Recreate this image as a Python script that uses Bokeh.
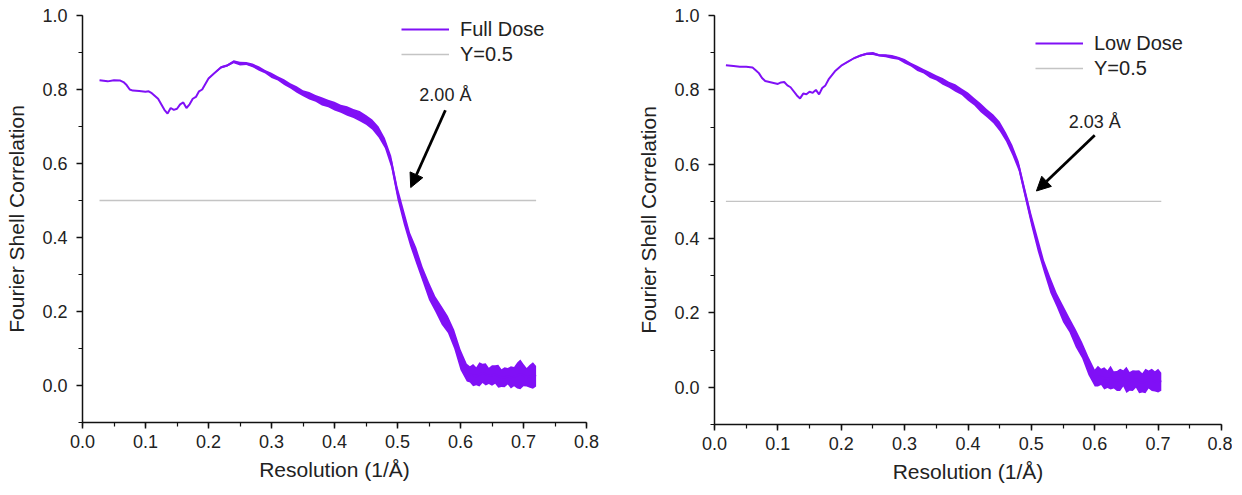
from bokeh.plotting import figure
from bokeh.layouts import row
from bokeh.models import (Range1d, SingleIntervalTicker, NumeralTickFormatter, Legend, LegendItem,
                          Arrow, NormalHead, Label, ColumnDataSource)
from bokeh.embed import file_html
from bokeh.resources import INLINE

# ---------------- data ----------------
# Panel a: Full Dose
res_a = [0.027, 0.04, 0.05, 0.06, 0.065, 0.07, 0.075, 0.08, 0.09, 0.10, 0.105, 0.11, 0.12, 0.13,
         0.135, 0.14, 0.145, 0.15, 0.155, 0.16, 0.165, 0.17, 0.175, 0.18, 0.185, 0.19, 0.20, 0.21,
         0.22, 0.23, 0.24, 0.25, 0.26, 0.27, 0.28, 0.29, 0.30, 0.31, 0.32, 0.33, 0.34, 0.35, 0.36,
         0.37, 0.38, 0.39, 0.40, 0.41, 0.42, 0.43, 0.44, 0.45, 0.46, 0.47, 0.48, 0.49, 0.50, 0.51,
         0.52, 0.53, 0.54, 0.55, 0.56, 0.57, 0.58, 0.59, 0.60, 0.61,
         0.615, 0.62, 0.625, 0.63, 0.635, 0.64, 0.645, 0.65, 0.655, 0.66, 0.665, 0.67, 0.675,
         0.68, 0.685, 0.69, 0.695, 0.70, 0.705, 0.71, 0.715, 0.72]
fsc_a = [0.825, 0.822, 0.825, 0.824, 0.820, 0.812, 0.800, 0.797, 0.796, 0.794, 0.795, 0.790, 0.775,
         0.745, 0.735, 0.750, 0.745, 0.748, 0.760, 0.765, 0.750, 0.760, 0.775, 0.780, 0.795, 0.800,
         0.830, 0.845, 0.860, 0.865, 0.875, 0.870, 0.870, 0.865, 0.857, 0.848, 0.838, 0.830, 0.820,
         0.810, 0.800, 0.790, 0.783, 0.776, 0.768, 0.762, 0.755, 0.748, 0.742, 0.735, 0.728, 0.718,
         0.705, 0.685, 0.655, 0.605, 0.520, 0.455, 0.395, 0.350, 0.300, 0.255, 0.220, 0.190, 0.165,
         0.125, 0.070, 0.035,
         0.030, 0.028, 0.025, 0.030, 0.033, 0.030, 0.026, 0.027, 0.030, 0.025, 0.020, 0.022, 0.025,
         0.022, 0.024, 0.027, 0.030, 0.028, 0.022, 0.025, 0.027, 0.025]
# half-width of the noisy band around the curve
spread_a = [0.0, 0.0, 0.0, 0.0, 0.0, 0.0, 0.0, 0.0, 0.0, 0.0, 0.0, 0.0, 0.0, 0.0,
            0.0, 0.0, 0.0, 0.0, 0.0, 0.0, 0.0, 0.0, 0.0, 0.0, 0.0, 0.0, 0.002, 0.002,
            0.003, 0.003, 0.004, 0.005, 0.004, 0.005, 0.006, 0.005, 0.007, 0.006, 0.008, 0.007, 0.009, 0.008, 0.010,
            0.009, 0.011, 0.010, 0.012, 0.011, 0.013, 0.012, 0.014, 0.013, 0.014, 0.015, 0.014, 0.016, 0.018, 0.020,
            0.018, 0.022, 0.020, 0.024, 0.021, 0.025, 0.023, 0.026, 0.028, 0.024,
            0.022, 0.030, 0.024, 0.033, 0.026, 0.030, 0.022, 0.028, 0.025, 0.031, 0.024, 0.027, 0.022,
            0.030, 0.026, 0.035, 0.040, 0.030, 0.025, 0.031, 0.036, 0.028]

# Panel b: Low Dose
res_b = [0.018, 0.03, 0.04, 0.05, 0.06, 0.065, 0.07, 0.075, 0.08, 0.09, 0.10, 0.105, 0.11, 0.115,
         0.12, 0.13, 0.135, 0.14, 0.145, 0.15, 0.155, 0.16, 0.165, 0.17, 0.175, 0.18, 0.19, 0.20,
         0.21, 0.22, 0.23, 0.24, 0.25, 0.26, 0.27, 0.28, 0.29, 0.30, 0.31, 0.32, 0.33, 0.34, 0.35,
         0.36, 0.37, 0.38, 0.39, 0.40, 0.41, 0.42, 0.43, 0.44, 0.45, 0.46, 0.47, 0.48, 0.49, 0.50,
         0.51, 0.52, 0.53, 0.54, 0.55, 0.56, 0.57, 0.58, 0.59, 0.60,
         0.605, 0.61, 0.615, 0.62, 0.625, 0.63, 0.635, 0.64, 0.645, 0.65, 0.655, 0.66, 0.665,
         0.67, 0.675, 0.68, 0.685, 0.69, 0.695, 0.70, 0.705]
fsc_b = [0.866, 0.864, 0.862, 0.862, 0.860, 0.853, 0.845, 0.832, 0.824, 0.820, 0.816, 0.820, 0.821,
         0.812, 0.807, 0.785, 0.777, 0.790, 0.788, 0.795, 0.792, 0.800, 0.788, 0.805, 0.812, 0.828,
         0.850, 0.865, 0.875, 0.885, 0.892, 0.897, 0.898, 0.893, 0.892, 0.889, 0.885, 0.877, 0.868,
         0.858, 0.850, 0.840, 0.832, 0.823, 0.814, 0.805, 0.795, 0.782, 0.768, 0.752, 0.737, 0.722,
         0.702, 0.673, 0.638, 0.595, 0.522, 0.450, 0.385, 0.325, 0.275, 0.235, 0.198, 0.168, 0.132,
         0.100, 0.058, 0.025,
         0.030, 0.028, 0.024, 0.022, 0.026, 0.020, 0.017, 0.020, 0.024, 0.020, 0.016, 0.018, 0.022,
         0.015, 0.012, 0.017, 0.021, 0.020, 0.016, 0.018, 0.015]
spread_b = [0.0, 0.0, 0.0, 0.0, 0.0, 0.0, 0.0, 0.0, 0.0, 0.0, 0.0, 0.0, 0.0, 0.0,
            0.0, 0.0, 0.0, 0.0, 0.0, 0.0, 0.0, 0.0, 0.0, 0.0, 0.0, 0.0, 0.0, 0.001,
            0.002, 0.002, 0.003, 0.003, 0.004, 0.003, 0.004, 0.005, 0.004, 0.006, 0.005, 0.007, 0.006, 0.008, 0.007,
            0.009, 0.008, 0.010, 0.009, 0.011, 0.010, 0.012, 0.011, 0.012, 0.013, 0.012, 0.014, 0.013, 0.015, 0.017,
            0.019, 0.017, 0.021, 0.019, 0.023, 0.020, 0.024, 0.022, 0.025, 0.023,
            0.028, 0.022, 0.030, 0.024, 0.032, 0.023, 0.027, 0.030, 0.022, 0.035, 0.025, 0.028, 0.023,
            0.031, 0.026, 0.033, 0.024, 0.030, 0.027, 0.032, 0.024]

threshold = 0.5
labels = ["Full Dose", "Low Dose"]
res_text = ["2.00 Å", "2.03 Å"]
panel_letters = ["a", "b"]

PURPLE = "#8010f6"
GRAY = "#c4c4c4"
FONT = "Liberation Sans"


def make_panel(res, fsc, spread, label, ann_text, letter, frame_w, frame_h, bl, br, bt, bb,
               text_xy, arrow_from, arrow_to, legend_loc, letter_xy):
    p = figure(frame_width=frame_w, frame_height=frame_h,
               x_range=Range1d(0, 0.8), y_range=Range1d(-0.1, 1.0),
               output_backend="svg", toolbar_location=None,
               min_border_left=bl, min_border_right=br, min_border_top=bt, min_border_bottom=bb)
    p.outline_line_color = None
    p.grid.visible = False
    p.background_fill_color = "white"
    p.border_fill_color = "white"

    p.xaxis.ticker = SingleIntervalTicker(interval=0.1, num_minor_ticks=2)
    p.yaxis.ticker = SingleIntervalTicker(interval=0.2, num_minor_ticks=2)
    p.xaxis.formatter = NumeralTickFormatter(format="0.0")
    p.yaxis.formatter = NumeralTickFormatter(format="0.0")
    for ax in (p.xaxis, p.yaxis):
        ax.axis_line_width = 1.5
        ax.axis_line_color = "#111111"
        ax.major_tick_line_color = "#111111"
        ax.minor_tick_line_color = "#111111"
        ax.major_tick_line_width = 1.5
        ax.minor_tick_line_width = 1.2
        ax.major_tick_in = 0
        ax.major_tick_out = 6
        ax.minor_tick_in = 0
        ax.minor_tick_out = 4
        ax.major_label_text_font = FONT
        ax.major_label_text_font_size = "18px"
        ax.major_label_text_color = "#222222"
        ax.axis_label_text_font = FONT
        ax.axis_label_text_font_size = "21px"
        ax.axis_label_text_font_style = "normal"
        ax.axis_label_text_color = "#222222"
    p.xaxis.axis_label = "Resolution (1/Å)"
    p.yaxis.axis_label = "Fourier Shell Correlation"
    p.xaxis.major_label_standoff = 6
    p.yaxis.major_label_standoff = 9
    p.xaxis.axis_label_standoff = 7
    p.yaxis.axis_label_standoff = 11

    lo = [c - s for c, s in zip(fsc, spread)]
    hi = [c + s for c, s in zip(fsc, spread)]
    src = ColumnDataSource(dict(x=res, y=fsc, lo=lo, hi=hi))

    h = p.line(x=[res[0], res[-1]], y=[threshold, threshold], line_color=GRAY, line_width=1.3)
    p.varea(x="x", y1="lo", y2="hi", source=src, fill_color=PURPLE)
    ln = p.line(x="x", y="y", source=src, line_color=PURPLE, line_width=2)

    legend = Legend(items=[LegendItem(label=label, renderers=[ln]),
                           LegendItem(label="Y=0.5", renderers=[h])],
                    location=legend_loc, padding=0, margin=0, spacing=1,
                    glyph_width=48, glyph_height=24, label_height=24, label_standoff=11,
                    label_text_font=FONT, label_text_font_size="20px", label_text_color="#222222",
                    border_line_alpha=0, background_fill_alpha=0)
    p.add_layout(legend)

    p.add_layout(Arrow(end=NormalHead(size=14, fill_color="black", line_color="black"),
                       x_start=arrow_from[0], y_start=arrow_from[1],
                       x_end=arrow_to[0], y_end=arrow_to[1],
                       line_width=2.8, line_color="black"))
    p.add_layout(Label(x=text_xy[0], y=text_xy[1], text=ann_text, text_align="center",
                       text_baseline="middle", text_font=FONT, text_font_size="18px",
                       text_color="#222222"))
    p.add_layout(Label(x=letter_xy[0], y=letter_xy[1], x_units="screen", y_units="screen",
                       text=letter, text_font=FONT, text_font_style="bold",
                       text_font_size="20px", text_baseline="middle", text_color="black"))
    return p


pa = make_panel(res_a, fsc_a, spread_a, labels[0], res_text[0], panel_letters[0],
                504, 407, 82, 34, 12, 62,
                (0.576, 0.785), (0.576, 0.744), (0.521, 0.535), (319, 356), (-74, 401))
pb = make_panel(res_b, fsc_b, spread_b, labels[1], res_text[1], panel_letters[1],
                507, 409, 94, 11, 15, 60,
                (0.600, 0.714), (0.600, 0.678), (0.508, 0.528), (321, 344), (-74, 406))

layout = row(pa, pb)
open("out.html", "w").write(file_html(layout, INLINE))
